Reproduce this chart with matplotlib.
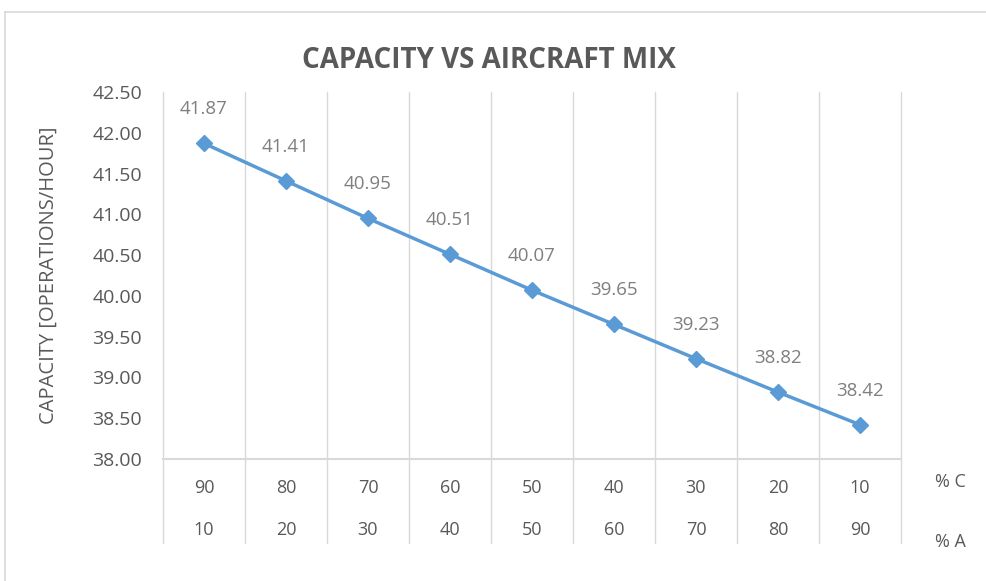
import matplotlib.pyplot as plt
from matplotlib.lines import Line2D

pct_c = ['90', '80', '70', '60', '50', '40', '30', '20', '10']
pct_a = ['10', '20', '30', '40', '50', '60', '70', '80', '90']
capacity = [41.87, 41.41, 40.95, 40.51, 40.07, 39.65, 39.23, 38.82, 38.42]
yticks = [38.0, 38.5, 39.0, 39.5, 40.0, 40.5, 41.0, 41.5, 42.0, 42.5]

plt.rcParams['font.family'] = ['Open Sans', 'DejaVu Sans']
grid_col = '#D9D9D9'
txt_col = '#595959'

fig = plt.figure(figsize=(9.86, 5.81), dpi=100)
ax = fig.add_axes([163/986, 1-459/581, 738/986, 367/581])

# chart border
fig.add_artist(Line2D([5/986, 5/986], [0, 1-12/581], color=grid_col, lw=1.2))
fig.add_artist(Line2D([5/986, 1], [1-12/581, 1-12/581], color=grid_col, lw=1.2))

x = list(range(len(capacity)))
ax.plot(x, capacity, color='#5B9BD5', lw=2.5, marker='D', ms=8, zorder=3)
for xi, v in zip(x, capacity):
    ax.annotate(f'{v:.2f}', (xi, v), xytext=(0, 18), textcoords='offset points',
                ha='center', va='bottom', fontsize=13.5, color='#7F7F7F')

ax.set_xlim(-0.5, len(capacity) - 0.5)
ax.set_ylim(38, 42.5)
ax.set_yticks(yticks)
ax.set_yticklabels([f'{t:.2f}' for t in yticks])
ax.tick_params(axis='y', length=0, pad=15, labelsize=14, labelcolor=txt_col)
ax.set_xticks([])
for s in ['top', 'right', 'left']:
    ax.spines[s].set_visible(False)
ax.spines['bottom'].set_color(grid_col)
ax.spines['bottom'].set_linewidth(1.5)

# category boundaries extend into the two-level axis
tr = ax.get_xaxis_transform()
for b in range(len(capacity) + 1):
    ax.plot([b - 0.5, b - 0.5], [-0.229, 1.0], transform=tr, color=grid_col,
            lw=1, clip_on=False, zorder=1)

for xi, c, a in zip(x, pct_c, pct_a):
    ax.text(xi, -0.079, c, transform=tr, ha='center', va='center',
            fontsize=13, color=txt_col)
    ax.text(xi, -0.193, a, transform=tr, ha='center', va='center',
            fontsize=13, color=txt_col)
ax.text(9.1, -0.063, '% C', transform=tr, ha='center', va='center',
        fontsize=13, color=txt_col)
ax.text(9.1, -0.225, '% A', transform=tr, ha='center', va='center',
        fontsize=13, color=txt_col)

ax.set_ylabel('CAPACITY [OPERATIONS/HOUR]', fontsize=14.5, color=txt_col, labelpad=24)
fig.text(489/986, 1-60/581, 'CAPACITY VS AIRCRAFT MIX', ha='center', va='center',
         fontsize=20, fontweight='bold', color=txt_col)

fig.savefig('out.png', dpi=100)
